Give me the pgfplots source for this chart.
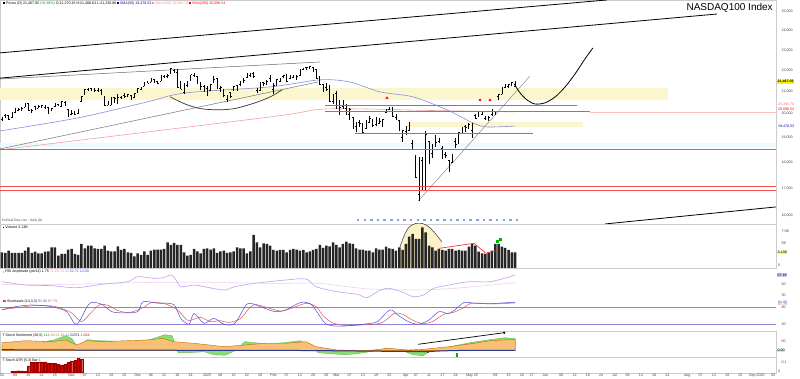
\documentclass[border=0pt]{standalone}
\usepackage{fontspec}
\setmainfont{Liberation Sans}
\usepackage{pgfplots}
\pgfplotsset{compat=1.18}
\usepackage{pgfplotstable}
\usepgfplotslibrary{fillbetween}
\newcommand{\tf}{\fontsize{3.6}{4}\selectfont}
\definecolor{bandyellow}{HTML}{FCF6CF}
\definecolor{linered}{HTML}{F25050}
\definecolor{smablue}{HTML}{8C8CE0}
\definecolor{smapink}{HTML}{F2A0A0}
\definecolor{rsiline}{HTML}{C0A0F0}
\definecolor{rsifill}{HTML}{8C8CF0}
\definecolor{rsisig}{HTML}{F0C8E8}
\definecolor{stochk}{HTML}{5050D8}
\definecolor{stochd}{HTML}{E85050}
\definecolor{refpurple}{HTML}{9080D8}
\definecolor{sentorange}{HTML}{F8C074}
\definecolor{sentgreen}{HTML}{86E070}
\definecolor{navy}{HTML}{283890}
\definecolor{dotblue}{HTML}{7FA0F0}
\definecolor{domefill}{HTML}{FBF2C8}

\pgfplotstableread{
i o h l c
0 19760 19850 19690 19770
1 19930 20010 19820 20000
2 19940 19960 19740 19790
3 19850 20100 19820 20080
4 20070 20270 20040 20250
5 20170 20250 20120 20200
6 20180 20290 20160 20270
7 20300 20480 20290 20440
8 20460 20500 20120 20170
9 20180 20220 20050 20180
10 20320 20350 20200 20220
11 20260 20380 20240 20350
12 20310 20400 20240 20360
13 20280 20400 20230 20390
14 20310 20310 20000 20110
15 20190 20270 20120 20250
16 20320 20480 20300 20350
17 20430 20460 20350 20370
18 20350 20590 20330 20550
19 20510 20590 20380 20400
20 20200 20230 19890 19890
21 19990 20180 19950 20030
22 20020 20130 19950 19970
23 20010 20230 20000 20200
24 20550 20800 20510 20780
25 20860 21110 20850 21100
26 21110 21180 21040 21120
27 21160 21170 21040 21100
28 21100 21160 20980 21070
29 21070 21180 20990 21040
30 21050 21120 20890 20900
31 20780 20790 20350 20390
32 20400 20580 20380 20560
33 20400 20760 20380 20740
34 20750 20760 20500 20680
35 20760 20880 20460 20740
36 20760 20810 20680 20740
37 20850 20920 20700 20780
38 20800 20880 20760 20860
39 20830 20850 20630 20690
40 20740 20950 20730 20930
41 20960 21170 20950 21160
42 21130 21220 21090 21200
43 21260 21450 21240 21440
44 21450 21490 21380 21400
45 21440 21650 21430 21620
46 21560 21580 21440 21450
47 21470 21510 21360 21400
48 21500 21800 21490 21780
49 21720 21760 21660 21670
50 21730 21830 21620 21780
51 21850 22130 21830 22100
52 22020 22060 21900 21930
53 21930 22050 21180 21210
54 21450 21490 21100 21110
55 20950 21420 20870 21290
56 21300 21500 21200 21490
57 21530 21800 21520 21800
58 21750 21860 21680 21800
59 21710 21720 21360 21510
60 21290 21430 21090 21230
61 21270 21290 20990 21010
62 21140 21240 20800 20990
63 21040 21350 21020 21330
64 21450 21710 21430 21560
65 21600 21620 21100 21180
66 21170 21250 20980 21180
67 21100 21110 20770 20850
68 20640 20860 20540 20830
69 20950 20980 20700 20800
70 21070 21250 21040 21230
71 21280 21290 21070 21080
72 21320 21480 21260 21460
73 21590 21620 21420 21540
74 21650 21880 21640 21830
75 21750 21860 21700 21850
76 21860 21900 21650 21700
77 21060 21160 20940 21080
78 21080 21450 21040 21420
79 21420 21460 21260 21410
80 21520 21560 21300 21480
81 21600 21800 21460 21480
82 21100 21380 20900 21300
83 21300 21600 21290 21580
84 21500 21650 21450 21640
85 21700 21780 21640 21770
86 21750 21810 21450 21490
87 21610 21780 21600 21760
88 21680 21770 21660 21720
89 21560 21760 21530 21720
90 21770 22030 21750 22030
91 22040 22130 22000 22100
92 22160 22180 22040 22170
93 22120 22220 22080 22180
94 22150 22170 21920 22060
95 22030 22060 21590 21610
96 21700 21720 21330 21350
97 21340 21370 20970 21090
98 21190 21400 21050 21130
99 21260 21300 20550 20550
100 20580 20900 20430 20880
101 20940 21010 20230 20360
102 20240 20610 19960 20300
103 20340 20600 20230 20570
104 20270 20420 19970 19990
105 19980 20240 19740 20200
106 19850 19860 19350 19430
107 19480 19650 19220 19370
108 19660 19760 19450 19600
109 19580 19630 19190 19230
110 19380 19720 19370 19700
111 19640 19920 19630 19830
112 19770 19780 19460 19490
113 19540 19880 19480 19740
114 19600 19840 19580 19680
115 19510 19790 19450 19750
116 20050 20200 20020 20180
117 20220 20300 20170 20290
118 20260 20290 19880 19920
119 19850 20000 19730 19810
120 19720 19730 19280 19280
121 18990 19310 18800 19280
122 19250 19470 19100 19430
123 19300 19660 19290 19580
124 18750 18880 18490 18520
125 18240 18300 17390 17400
126 16770 18210 16540 17430
127 18060 18190 16950 17090
128 17060 19270 16920 19150
129 18830 18850 17910 18350
130 18350 18720 18170 18690
131 19050 19100 18600 18810
132 18850 18970 18780 18830
133 18560 18630 18130 18260
134 18330 18400 18150 18260
135 18080 18100 17600 17810
136 18000 18330 17980 18280
137 18820 18990 18550 18720
138 18740 19220 18710 19210
139 19180 19440 19130 19430
140 19450 19510 19220 19420
141 19370 19590 19350 19550
142 19300 19620 18990 19570
143 19940 19990 19780 19800
144 19910 20140 19880 20100
145 19980 20080 19950 19990
146 19810 19930 19760 19790
147 19800 19930 19690 19870
148 20000 20220 19910 20060
149 20110 20140 19970 20060
150 20790 20890 20630 20870
151 20880 21190 20870 21190
152 21210 21340 21180 21320
153 21250 21360 21180 21340
154 21350 21440 21270 21430
155 21270 21480 21230 21467
}\ohlc

\pgfplotstableread{
i v
0 3.13
1 3.00
2 3.47
3 3.00
4 3.00
5 3.00
6 3.00
7 3.47
8 4.13
9 3.00
10 3.27
11 2.93
12 2.93
13 3.27
14 3.33
15 4.13
16 4.13
17 2.47
18 2.80
19 2.80
20 3.67
21 3.80
22 2.80
23 2.60
24 4.80
25 3.93
26 4.47
27 4.47
28 3.93
29 3.80
30 3.80
31 4.47
32 3.47
33 3.33
34 3.33
35 4.33
36 3.60
37 3.80
38 3.13
39 3.00
40 2.33
41 2.93
42 2.60
43 3.33
44 2.60
45 3.47
46 3.67
47 3.67
48 3.67
49 3.80
50 5.13
51 4.60
52 5.00
53 4.60
54 4.60
55 3.13
56 2.47
57 2.60
58 3.80
59 3.33
60 2.93
61 3.80
62 3.93
63 3.67
64 3.93
65 3.00
66 3.33
67 3.47
68 3.00
69 3.13
70 3.33
71 4.13
72 3.93
73 3.93
74 2.93
75 3.33
76 6.60
77 5.13
78 4.13
79 4.93
80 4.80
81 4.47
82 3.60
83 3.47
84 3.60
85 3.60
86 3.13
87 3.60
88 3.80
89 3.67
90 3.47
91 3.60
92 3.13
93 3.33
94 3.60
95 3.80
96 4.60
97 4.00
98 4.47
99 4.33
100 5.13
101 4.60
102 4.13
103 4.80
104 5.27
105 4.93
106 4.80
107 3.93
108 3.67
109 3.67
110 3.47
111 3.47
112 3.13
113 3.93
114 3.67
115 3.67
116 4.27
117 3.93
118 3.80
119 3.47
120 4.13
121 3.60
122 4.80
123 6.27
124 6.80
125 5.80
126 5.80
127 8.13
128 7.13
129 4.47
130 4.13
131 3.47
132 3.80
133 3.60
134 3.47
135 3.80
136 3.80
137 3.47
138 3.60
139 3.47
140 3.47
141 4.27
142 4.80
143 4.47
144 3.27
145 2.93
146 2.80
147 3.13
148 3.47
149 4.80
150 4.80
151 4.27
152 4.00
153 3.60
154 3.13
155 3.13
}\vol

\pgfplotstableread{
i v
0 54.9
7.1 48.8
14.8 47.6
22.5 43.9
30.2 50.1
37.9 54.9
41.0 64.1
45.6 61.1
48.6 62.2
51.1 67.2
52.6 58.0
54.1 45.7
58.0 48.8
61.0 45.7
67.2 39.7
70.3 45.7
76.4 52.0
85.7 58.0
91.8 59.8
94.9 45.7
101.1 36.6
107.3 31.8
110.3 25.6
113.4 36.6
116.6 42.8
121.1 35.5
124.2 27.4
127.3 30.5
130.4 42.8
135.0 48.8
141.2 54.9
147.4 54.9
153.5 64.1
155 67.2
}\rsi

\pgfplotstableread{
i v
0 50
20 50
40 53
60 54
80 52
95 52
100 49
110 42
120 40
128 40
135 42
145 47
155 53
}\rsisig

\pgfplotstableread{
i v
0 70
4 81
9 87
15 81
19.5 64
22.5 20
25.7 81
27.2 96
30.2 89
33.2 64
36.4 60
41 64
42.6 98
47 93
51.8 89
54 41
56.5 21
58 58
61 24
64 41
67.2 20
70.3 24
73.4 81
75 93
79.5 75
82.6 64
85.7 70
90.3 96
93.4 89
95.8 52
98 21
102 14
107 18
110 22
113.4 30
117.2 70
119.6 52
122.7 30
125.7 21
128.9 35
132 64
135 58
138 81
139.6 96
143 93
147.4 91
151 94
155 96
}\stk

\pgfplotstableread{
i v
0 72
5 78
10 85
16 82
21 60
24 30
27 62
29.5 88
32 86
35 68
38.5 61
43 80
45 95
49 92
53 70
56 35
58.5 40
60 45
63 30
66 33
68.5 27
72 40
75 80
77 88
81 75
84.5 66
88 78
92 93
95 80
97 50
100 25
104 16
108 18
114.5 25
118.5 58
121 55
124 35
127 23
130 30
133.5 55
136.5 62
139.5 78
141.5 92
145 93
149 91
155 94
}\std

\pgfplotstableread{
i v
0 8
7.1 10
14.8 9
19.3 10.7
22.5 5.7
25.7 10
30.2 9
37.9 10
44.1 10.7
48.6 12.4
51.8 9
58 7.4
67.2 4
73.4 5.7
79.5 7.4
85.7 7.4
91.8 9
94.9 4
101.1 0.7
110.3 0
116.6 2.4
122.7 0.7
127.3 1.4
135 4
142.7 7.4
147.4 10
155 11.4
}\sorange

\pgfplotstableread{
i v
0 6
5.4 9
11.5 8
16 11
19.3 15
21.1 12
23 3
25.7 11
29.6 10
38.7 9
44.7 11
49.2 16
51.4 15
53.2 -2
56.8 -2
61 -1
64 -4
67.4 -4.5
70.4 0
73.4 9
76.4 8
79.5 7
85.5 8
90 10
93 6
95.5 -2
99.1 -3
103.6 -4
107.3 -3
111.2 -1
115.7 2
120.2 1
124.2 -4
127.2 -5
129.3 0
132.3 2
136.9 5
141.4 8
147.4 11
151.9 13
155 12
}\sgreen

\pgfplotstableread{
i v
3 1.0
4 1.2
5 1.6
6 1.3
7 1.0
8 6.3
9 10.0
10 10.0
11 10.0
12 10.3
13 10.5
14 9.5
15 8.7
16 8.7
17 8.0
18 7.3
19 8.0
20 10.0
21 10.7
22 11.7
23 14.0
24 13.3
}\redbars

\pgfplotsset{panel/.style={scale only axis, width=776pt, xmin=-0.6, xmax=233.8,
  anchor=south west, xtick=\empty, axis line style={gray!40, line width=0.4pt},
  major tick length=0pt, yticklabel pos=right,
  yticklabel style={font=\tf, text=black!75, anchor=west, xshift=2pt},
  clip mode=individual}}

\begin{document}
\begin{tikzpicture}
\fill[white] (0,0) rectangle (800pt,379pt);

% ---------------- PRICE ----------------
\begin{axis}[panel, at={(0pt,155pt)}, height=224pt, ymode=log, ymin=15722, ymax=25667,
  ytick={16000,17000,18000,19000,20000,21000,22000,23000,24000,25000},
  yticklabels={{16,000},{17,000},{18,000},{19,000},{20,000},{21,000},{22,000},{23,000},{24,000},{25,000}}]
\addplot[draw=none, fill=bandyellow] coordinates {(-0.6,20620) (201.2,20620) (201.2,21170) (-0.6,21170)} --cycle;
\addplot[draw=none, fill=bandyellow] coordinates {(122.4,19440) (175.5,19440) (175.5,19650) (122.4,19650)} --cycle;
\addplot[draw=none, fill=cyan!7] coordinates {(-0.6,18620) (233.8,18620) (233.8,18770) (-0.6,18770)} --cycle;
\addplot[draw=red!25, line width=0.5pt] coordinates {(177.6,20090) (233.8,20090)};
\addplot[smapink, line width=0.6pt, smooth] coordinates {(-0.6,18490) (81,19870) (98.2,20220) (130,20150) (155,20090)};
\addplot[smablue, line width=0.6pt, smooth] coordinates {(-0.6,19270) (23,19830) (43.8,20530) (55.3,20940) (81,21220) (96,21550) (105,21450) (114.2,20990) (124.2,20760) (134.4,20180) (142.3,19610) (146.5,19440) (155,19480)};
\addplot[black!55, line width=0.5pt] coordinates {(-0.6,18527) (95.5,21450)};
\addplot[black!60, line width=0.5pt] coordinates {(-0.6,21590) (96.1,22410)};
\addplot[black, line width=0.8pt] coordinates {(-0.6,22860) (182.8,25667)};
\addplot[black, line width=0.8pt] coordinates {(-0.6,21630) (216,24890)};
\addplot[black, line width=0.8pt] coordinates {(182.2,15722) (233.8,16318)};
\addplot[black!45, line width=0.5pt] coordinates {(125.7,16530) (159.5,21730)};
\addplot[black!80, line width=0.7pt, smooth] coordinates {(50.8,20760) (55.3,20440) (59.8,20240) (65.0,20180) (70.4,20240) (76.4,20490) (81.0,20760) (84.6,21080)};
\addplot[black, line width=0.8pt, smooth] coordinates {(154.7,21360) (156.5,20940) (158.6,20620) (161.0,20440) (164.0,20490) (167.1,20760) (170.1,21220) (173.1,21830) (176.1,22560) (178.5,23110)};
% OHLC bars: high-low range as error bar from the low
\addplot[draw=none, mark=none, error bars/.cd, y dir=plus, y explicit, error mark=none,
  error bar style={draw=black, solid, line width=0.75pt}] table[x=i, y=l, y error expr=\thisrow{h}-\thisrow{l}] {\ohlc};
\addplot[only marks, mark=-, mark size=0.55pt, mark options={draw=black, line width=0.6pt}] table[x expr=\thisrow{i}-0.17, y=o] {\ohlc};
\addplot[only marks, mark=-, mark size=0.55pt, mark options={draw=black, line width=0.6pt}] table[x expr=\thisrow{i}+0.17, y=c] {\ohlc};
% horizontal support/resistance levels (drawn above the bars)
\addplot[draw=linered, line width=0.9pt] coordinates {(97.6,20355) (173.7,20355)};
\addplot[draw=linered, line width=0.9pt] coordinates {(97.6,20090) (177.6,20090)};
\addplot[draw=linered, line width=0.9pt] coordinates {(106.6,19186) (160.5,19186)};
\addplot[draw=linered, line width=0.9pt] coordinates {(-0.6,18525) (233.8,18525)};
\addplot[draw=linered, line width=0.9pt] coordinates {(-0.6,17048) (233.8,17048)};
\addplot[draw=linered, line width=0.9pt] coordinates {(-0.6,16900) (233.8,16900)};
\addplot[only marks, mark=triangle*, mark size=1.3pt, red] coordinates {(116.3,20710) (144.4,20620) (147.4,20620)};
\addplot[only marks, mark=square*, mark size=0.75pt, dotblue] coordinates {(107.5,15860) (109.5,15860) (111.5,15860) (113.5,15860) (115.5,15860) (117.5,15860) (119.5,15860) (121.5,15860) (123.5,15860) (125.5,15860) (127.5,15860) (129.5,15860) (131.5,15860) (133.5,15860) (135.5,15860) (137.5,15860) (139.5,15860) (141.5,15860) (143.5,15860) (145.5,15860) (147.5,15860) (149.5,15860) (151.5,15860) (153.5,15860) (155.5,15860)};
\node[anchor=west, font=\tf, inner sep=0pt] at (rel axis cs:0.004,0.985) {\textcolor{black}{\rule{1.8pt}{1.8pt}} Prices (D) 21,467.05 \textcolor{green!55!black}{(+0.28\%)} O:21,270.45 H:21,488.62 L:21,230.88 \textcolor{blue!70!black}{\rule{1.8pt}{1.8pt} SMA(50) 19,478.53} \textcolor{red!45}{\rule{1.8pt}{1.8pt} SMA(100) 20,365.70} \textcolor{red}{\rule{1.8pt}{1.8pt} SMA(200) 20,096.54}};
\node[anchor=east, font=\fontsize{10}{11}\selectfont, inner sep=0pt] at (rel axis cs:0.996,0.964) {NASDAQ100 Index};
\node[anchor=west, font=\fontsize{3.2}{3.6}\selectfont, text=black!70, inner sep=0pt] at (rel axis cs:0.002,0.016) {ProRealTime.com - Daily (D)};
\node[anchor=west, fill=yellow, font=\tf\bfseries, inner sep=0.5pt, xshift=1pt] at (axis cs:233.8,21467) {21,467.05};
\node[anchor=west, font=\tf, text=red!55, inner sep=0.3pt, xshift=1.5pt] at (axis cs:233.8,20420) {20,365.70};
\node[anchor=west, font=\tf, text=red, inner sep=0.3pt, xshift=1.5pt] at (axis cs:233.8,20180) {20,096.54};
\node[anchor=west, font=\tf, text=blue!70!black, inner sep=0.3pt, xshift=1.5pt] at (axis cs:233.8,19440) {19,478.53};
\end{axis}

% ---------------- VOLUME ----------------
\begin{axis}[panel, at={(0pt,111pt)}, height=44pt, ymin=0, ymax=8.8,
  ytick={5,7.4}, yticklabels={5B,7.5B}]
\addplot[draw=none, fill=domefill] coordinates {(120.2,0) (120.2,4.2) (121.5,6.5) (123,8.2) (125,8.9) (127,8.9) (129,8.2) (131,6.8) (132.9,5.2) (132.9,0)} --cycle;
\addplot[black!80, line width=0.5pt, smooth] coordinates {(120.2,4.2) (121.5,6.5) (123,8.2) (125,8.9) (127,8.9) (129,8.2) (131,6.8) (132.9,5.2)};
\addplot[ybar, bar width=2.5pt, bar shift=0pt, fill=black!85, draw=none] table[x=i, y=v] {\vol};
\addplot[red!80, line width=0.7pt] coordinates {(132.0,3.93) (142.6,4.93) (146.2,2.93) (149.5,3.47)};
\addplot[only marks, mark=square*, mark size=0.9pt, green!70!black] coordinates {(149.5,5.3) (150.5,5.7)};
\node[anchor=west, font=\tf, inner sep=0pt] at (rel axis cs:0.003,0.93) {\rule{1.8pt}{1.8pt} Volume 3.13B};
\node[anchor=west, fill=yellow!70, font=\tf, inner sep=0.4pt, xshift=1pt] at (axis cs:233.8,3.13) {3.13B};
\node[anchor=west, font=\tf, text=black!70, inner sep=0.3pt, xshift=1.5pt] at (axis cs:233.8,0.6) {0};
\end{axis}

% ---------------- RSI ----------------
\begin{axis}[panel, at={(0pt,81pt)}, height=30pt, ymin=25, ymax=80,
  ytick={30,50}, yticklabels={30,50}]
\addplot[rsisig, line width=0.5pt, smooth, name path=sig] table[x=i, y=v] {\rsisig};
\addplot[rsiline, line width=0.6pt, smooth, name path=rsi] table[x=i, y=v] {\rsi};
\addplot[rsifill, fill opacity=0.6] fill between[of=rsi and sig];
\node[anchor=west, font=\tf, inner sep=0pt] at (rel axis cs:0.003,0.88) {\textcolor{rsiline}{\rule{1.8pt}{1.8pt}} RSI Amplitude (per14) 1.75 \textcolor{red!50}{71.23} \textcolor{rsiline}{70.30} \textcolor{blue!70}{52.71 14.09}};
\node[anchor=west, fill=rsiline!60, font=\tf, inner sep=0.4pt, xshift=1pt] at (axis cs:233.8,67.2) {67.18};
\end{axis}

% ---------------- STOCHASTIC ----------------
\begin{axis}[panel, at={(0pt,48pt)}, height=33pt, ymin=-2.4, ymax=111,
  ytick={20,80}, yticklabels={20,80}]
\addplot[refpurple, line width=0.7pt] coordinates {(-0.6,80) (233.8,80)};
\addplot[refpurple, line width=0.7pt] coordinates {(-0.6,20) (233.8,20)};
\addplot[stochd, line width=0.5pt, smooth, name path=d] table[x=i, y=v] {\std};
\addplot[stochk, line width=0.5pt, smooth, name path=k] table[x=i, y=v] {\stk};
\addplot[violet!40, fill opacity=0.65] fill between[of=k and d];
\node[anchor=west, font=\tf, inner sep=0pt] at (rel axis cs:0.003,0.9) {\textcolor{stochk}{\rule{1.8pt}{1.8pt}}\textcolor{stochd}{\rule{1.8pt}{1.8pt}} Stochastic (14,3,3) \textcolor{stochk}{91.95} \textcolor{stochd}{87.79}};
\node[anchor=west, font=\tf, text=stochk, inner sep=0.3pt, xshift=1.5pt] at (axis cs:233.8,98) {91.95};
\node[anchor=west, font=\tf, text=stochd, inner sep=0.3pt, xshift=1.5pt] at (axis cs:233.8,88) {87.79};
\end{axis}

% ---------------- SENTIMENT ----------------
\begin{axis}[panel, at={(0pt,22pt)}, height=26pt, ymin=-6.3, ymax=19.7,
  ytick={9.7}, yticklabels={50}]
\addplot[sentgreen!80!black, fill=sentgreen, line width=0.4pt] table[x=i, y=v] {\sgreen} \closedcycle;
\addplot[orange!80!black, fill=sentorange, line width=0.4pt] table[x=i, y=v] {\sorange} \closedcycle;
\addplot[navy, line width=1pt, smooth] coordinates {(0,1) (30,0.6) (60,0.4) (90,0.2) (110,-0.4) (127,-0.9) (133,-0.2) (142,0.4) (155,0.3)};
\addplot[black, line width=0.7pt] coordinates {(125.7,6.4) (151.7,18.0)};
\addplot[only marks, mark=*, mark size=0.9pt, black] coordinates {(151.7,18.0)};
\addplot[only marks, mark=*, mark size=0.9pt, navy] coordinates {(128.7,-1.3)};
\addplot[green!70!black, line width=1.4pt] coordinates {(137.5,-2.6) (137.5,-6.2)};
\node[anchor=west, font=\tf, inner sep=0pt] at (rel axis cs:0.003,0.84) {T Stoch Sentiment (26,5) \textcolor{green!60!black}{141} \textcolor{orange}{68.06} \textcolor{cyan!70!black}{12.14} 0.071 \textcolor{red}{1.064}};
\node[anchor=west, fill=cyan!25, font=\tf, inner sep=0.4pt, xshift=1pt] at (axis cs:233.8,0) {0.00};
\end{axis}

% ---------------- RED BARS ----------------
\begin{axis}[panel, at={(0pt,6pt)}, height=16pt, ymin=-0.7, ymax=15.3,
  ytick={9.6}, yticklabels={0.1},
  xtick={0,4,8,12,16,21,25,29,33,37,41,45,49,53,57,62,66,70,74,78,82,86,90,94,98,101,105,109,113,117,122,125,129,133,137,142,149,153,157,160,164,169,173,177,181,185,189,193,197,201,207,211,215,219,223,228,233},
  xticklabels={03,09,15,21,25,Nov,07,13,19,25,Dec,06,12,18,24,2025,08,15,22,28,Feb,07,13,20,26,Mar,07,13,19,25,Apr,07,11,17,24,May 25,09,15,20,27,Jun,06,12,18,24,Jul,08,14,18,24,Aug,07,13,19,25,Sep 2025,05},
  xticklabel style={font=\tf, text=black!75, inner sep=0.5pt}]
\addplot[ybar, bar width=2.4pt, bar shift=0pt, fill=red!85!black, draw=red!60!black, line width=0.2pt] table[x=i, y=v] {\redbars};
\node[anchor=west, font=\tf, inner sep=0pt] at (rel axis cs:0.003,0.8) {T Stoch ATR (5,3) Bar \textcolor{red}{1}};
\node[anchor=west, font=\tf, text=red, inner sep=0.3pt, xshift=1.5pt] at (axis cs:233.8,0.6) {0};
\end{axis}
\pgfresetboundingbox
\path[use as bounding box] (0,0) rectangle (800pt,379pt);
\end{tikzpicture}
\end{document}
